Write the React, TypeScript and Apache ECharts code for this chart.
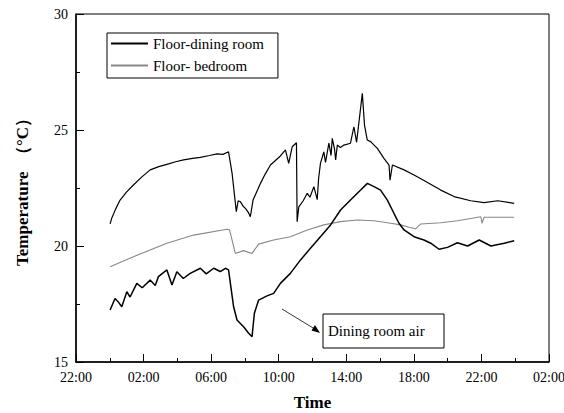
import React, { useEffect, useRef } from "react";
import * as echarts from "echarts";

// hours since 22:00 of the previous day, temperature °C
const floorDining: [number, number][] = [
  [2.02, 20.95], [2.12, 21.21], [2.35, 21.6], [2.61, 21.98], [3.0, 22.33], [3.4, 22.63],
  [3.9, 22.98], [4.39, 23.28], [4.9, 23.42], [5.38, 23.52], [5.9, 23.63], [6.37, 23.71],
  [6.9, 23.78], [7.36, 23.82], [7.9, 23.9], [8.35, 23.97], [8.7, 23.95], [9.03, 24.06],
  [9.24, 23.13], [9.49, 21.48], [9.6, 21.95], [9.73, 21.91], [9.91, 21.7], [10.03, 21.62],
  [10.2, 21.45], [10.32, 21.26], [10.48, 21.98], [10.92, 22.7], [11.2, 23.1], [11.51, 23.49],
  [12.1, 23.88], [12.4, 24.14], [12.59, 23.56], [12.8, 24.28], [13.05, 24.45], [13.09, 21.05],
  [13.19, 21.69], [13.45, 21.95], [13.69, 22.27], [13.85, 22.1], [14.08, 22.56], [14.28, 22.0],
  [14.36, 22.9], [14.47, 23.56], [14.67, 24.06], [14.77, 23.6], [14.97, 24.43], [15.1, 23.9],
  [15.17, 24.64], [15.3, 24.2], [15.37, 23.71], [15.47, 24.35], [15.65, 24.25], [15.86, 24.35],
  [16.25, 24.43], [16.45, 25.14], [16.61, 24.47], [16.95, 26.58], [17.08, 25.2], [17.24, 24.57],
  [17.44, 24.5], [17.84, 24.21], [18.23, 23.78], [18.53, 23.49], [18.59, 22.84], [18.73, 23.49],
  [19.42, 23.28], [20.01, 23.06], [20.6, 22.82], [21.59, 22.41], [22.38, 22.13], [23.37, 21.95],
  [24.16, 21.87], [24.96, 21.95], [25.94, 21.84],
];

const floorBedroom: [number, number][] = [
  [2.02, 19.11], [3.4, 19.54], [5.38, 20.12], [6.96, 20.47], [8.94, 20.72], [9.09, 20.7],
  [9.43, 19.68], [9.92, 19.8], [10.42, 19.68], [10.81, 20.08], [11.7, 20.26], [12.69, 20.4],
  [13.69, 20.69], [14.67, 20.91], [15.66, 21.05], [16.65, 21.12], [17.64, 21.09], [18.63, 20.98],
  [19.22, 20.91], [19.71, 20.81], [20.11, 20.74], [20.41, 20.95], [21.59, 21.0], [22.58, 21.09],
  [23.97, 21.26], [24.03, 20.98], [24.16, 21.24], [25.94, 21.24],
];

const diningAir: [number, number][] = [
  [2.02, 17.24], [2.31, 17.74], [2.49, 17.6], [2.71, 17.38], [3.01, 18.03], [3.2, 17.8],
  [3.6, 18.39], [3.92, 18.2], [4.39, 18.53], [4.69, 18.3], [4.88, 18.68], [5.38, 18.97],
  [5.68, 18.32], [5.97, 18.89], [6.35, 18.6], [6.76, 18.82], [7.36, 19.04], [7.71, 18.8],
  [8.15, 19.04], [8.54, 18.9], [8.84, 19.04], [9.03, 18.97], [9.33, 17.38], [9.53, 16.81],
  [9.92, 16.52], [10.22, 16.24], [10.42, 16.09], [10.56, 17.1], [10.81, 17.67], [11.31, 17.85],
  [11.7, 17.96], [12.1, 18.39], [12.69, 18.82], [13.29, 19.4], [13.88, 19.9], [14.47, 20.4],
  [15.07, 20.91], [15.66, 21.55], [16.25, 21.98], [16.85, 22.41], [17.25, 22.7], [17.64, 22.56],
  [18.03, 22.41], [18.43, 21.98], [18.82, 21.41], [19.12, 20.98], [19.42, 20.69], [20.01, 20.4],
  [20.6, 20.26], [21.0, 20.12], [21.49, 19.86], [21.99, 19.94], [22.58, 20.14], [23.18, 20.0],
  [23.87, 20.26], [24.56, 20.0], [25.35, 20.12], [25.94, 20.23],
];

const startHour = 22;
const seriesNames = ["Floor-dining room", "Floor- bedroom", "Dining room air"];

const FONT = "Liberation Serif, Times New Roman, serif";

export default function App() {
  const ref = useRef<HTMLDivElement>(null);
  useEffect(() => {
    if (!ref.current) return;
    document.body.style.margin = "0";
    const chart = echarts.init(ref.current, undefined, { renderer: "svg" });
    chart.setOption({
      animation: false,
      backgroundColor: "#fff",
      textStyle: { fontFamily: FONT, color: "#000" },
      grid: {
        left: 76, right: 15, top: 14, bottom: 51,
        outerBoundsMode: "none",
        containLabel: false,
        show: true, borderColor: "#000", borderWidth: 1,
      },
      legend: {
        data: [seriesNames[0], seriesNames[1]],
        orient: "vertical",
        left: 107,
        top: 33,
        padding: [3, 14, 5, 3],
        itemGap: 7,
        itemWidth: 37,
        itemHeight: 14,
        borderColor: "#000",
        borderWidth: 1,
        borderRadius: 0,
        itemStyle: { opacity: 0 },
        textStyle: { fontFamily: FONT, fontSize: 15, color: "#000" },
      },
      xAxis: {
        type: "value",
        min: 0,
        max: 28,
        interval: 4,
        name: "Time",
        nameLocation: "middle",
        nameGap: 32,
        nameTextStyle: { fontFamily: FONT, fontSize: 17, fontWeight: "bold", color: "#000" },
        axisLine: { lineStyle: { color: "#000", width: 1.5 } },
        axisTick: { inside: true, length: 8, lineStyle: { color: "#000" } },
        minorTick: { show: true, splitNumber: 2, length: 4, lineStyle: { color: "#000" } },
        splitLine: { show: false },
        axisLabel: {
          fontFamily: FONT, fontSize: 14, color: "#000", margin: 8,
          formatter: (v: number) => {
            const h = (startHour + v) % 24;
            return (h < 10 ? "0" : "") + h + ":00";
          },
        },
      },
      yAxis: {
        type: "value",
        min: 15,
        max: 30,
        interval: 5,
        name: "Temperature  （°C）",
        nameLocation: "middle",
        nameGap: 45,
        nameTextStyle: { fontFamily: FONT, fontSize: 17, fontWeight: "bold", color: "#000" },
        axisLine: { lineStyle: { color: "#000", width: 1.5 } },
        axisTick: { inside: true, length: 8, lineStyle: { color: "#000" } },
        minorTick: { show: true, splitNumber: 2, length: 4, lineStyle: { color: "#000" } },
        splitLine: { show: false },
        axisLabel: { fontFamily: FONT, fontSize: 14, color: "#000", margin: 8 },
      },
      series: [
        {
          name: seriesNames[0], type: "line", data: floorDining, symbol: "none",
          lineStyle: { color: "#000", width: 1.2 }, itemStyle: { color: "#000" },
        },
        {
          name: seriesNames[1], type: "line", data: floorBedroom, symbol: "none",
          lineStyle: { color: "#888", width: 1.1 }, itemStyle: { color: "#888" },
        },
        {
          name: seriesNames[2], type: "line", data: diningAir, symbol: "none",
          lineStyle: { color: "#000", width: 1.5 }, itemStyle: { color: "#000" },
        },
      ],
      graphic: [
        {
          type: "line",
          shape: { x1: 282, y1: 309, x2: 318, y2: 331 },
          style: { stroke: "#000", lineWidth: 0.8 },
        },
        {
          type: "polygon",
          shape: { points: [[320, 333], [311.5, 330.5], [315, 325]] },
          style: { fill: "#000" },
        },
        {
          type: "rect",
          shape: { x: 323, y: 314, width: 121, height: 34 },
          style: { fill: "#fff", stroke: "#000", lineWidth: 1 },
        },
        {
          type: "text",
          x: 328,
          y: 331,
          style: {
            text: seriesNames[2], fontFamily: FONT, fontSize: 15, fill: "#000",
            verticalAlign: "middle", align: "left",
          },
        },
      ],
    });
    return () => chart.dispose();
  }, []);
  return <div ref={ref} style={{ width: 564, height: 413 }} />;
}
